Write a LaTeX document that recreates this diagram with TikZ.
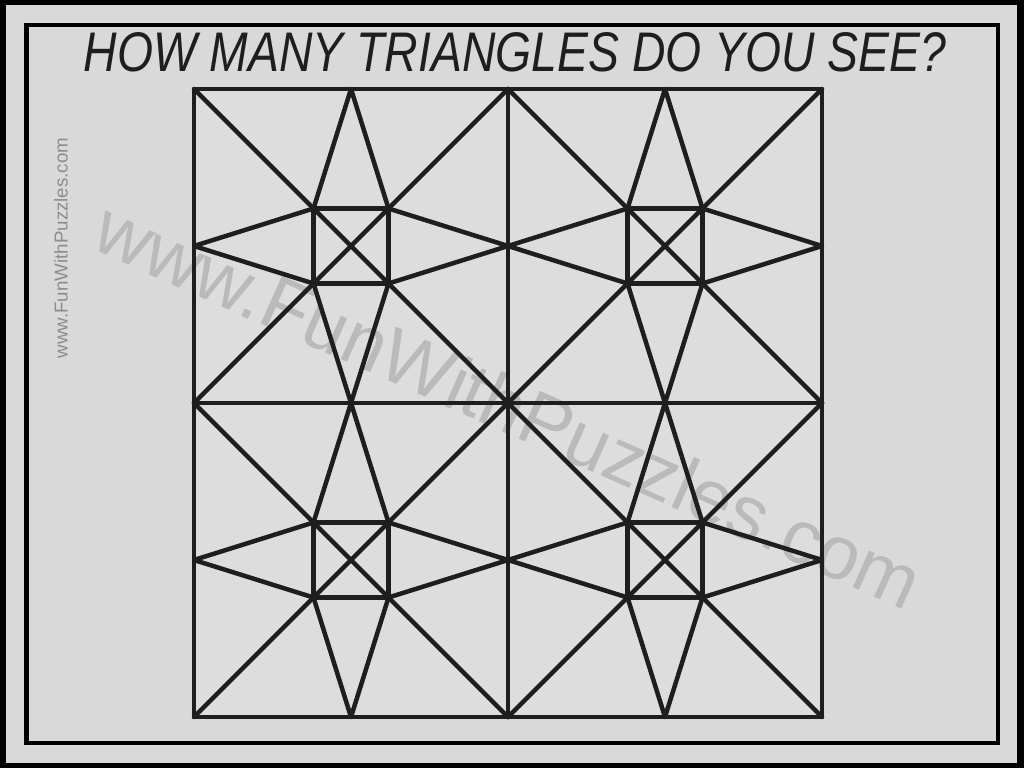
\documentclass[tikz,border=0pt]{standalone}
\usepackage{fontspec}
\setsansfont{Liberation Sans}
\usetikzlibrary{positioning}
\definecolor{paper}{HTML}{D9D9D9}
\definecolor{board}{HTML}{DDDDDD}
\definecolor{ink}{HTML}{1E1E1E}
\definecolor{markfaint}{HTML}{BABABA}
\definecolor{markdark}{HTML}{8C8C8C}
\tikzset{
    puzzleline/.style={draw=ink, line width=3.2pt, line join=round, line cap=round},
    frameline/.style={draw=black, line width=3.3pt},
    titletext/.style={text=ink, inner sep=0pt, anchor=base,
        font=\sffamily\itshape\fontsize{39.7}{40}\selectfont},
    bigmark/.style={text=markfaint, inner sep=0pt,
        font=\sffamily\fontsize{54}{56}\selectfont},
    sidemark/.style={text=markdark, inner sep=0pt,
        font=\sffamily\fontsize{13.3}{14}\selectfont},
}

\begin{document}
\begin{tikzpicture}[x=0.025cm, y=-0.025cm]
    \useasboundingbox (0,0) rectangle (1024,768);
    \fill[black] (0,0) rectangle (1024,768);
    \fill[paper] (6,5) rectangle (1017,763);
    \draw[frameline] (26.5,25) rectangle (998,743);
    \node[titletext] (question) at (515,72) {\scalebox{0.83}[1]{HOW MANY TRIANGLES DO YOU SEE?}};
    \node[sidemark, rotate=90] (sitename) at (61,248) {www.FunWithPuzzles.com};
    \fill[board] (194,89) rectangle (822,717);
    \node[bigmark, rotate=-24] (watermark) at (509,405) {www.FunWithPuzzles.com};
% outer square and its halves
    \draw[puzzleline] (194,89) rectangle (822,717);
    \draw[puzzleline] (508,89)--(508,717);
    \draw[puzzleline] (194,403)--(822,403);
% one star in each quarter
\foreach \cx/\cy in {351/246, 665/246, 351/560, 665/560}{
\begin{scope}[shift={(\cx,\cy)}]
	\draw[puzzleline] (-157,-157)--(157,157);
	\draw[puzzleline] (157,-157)--(-157,157);
	\draw[puzzleline] (-37.5,-37.5) rectangle (37.5,37.5);
	\draw[puzzleline] (0,-157)--(-37.5,-37.5)--(-157,0)--(-37.5,37.5)
	    --(0,157)--(37.5,37.5)--(157,0)--(37.5,-37.5)--cycle;
\end{scope}
}
\end{tikzpicture}
\end{document}
